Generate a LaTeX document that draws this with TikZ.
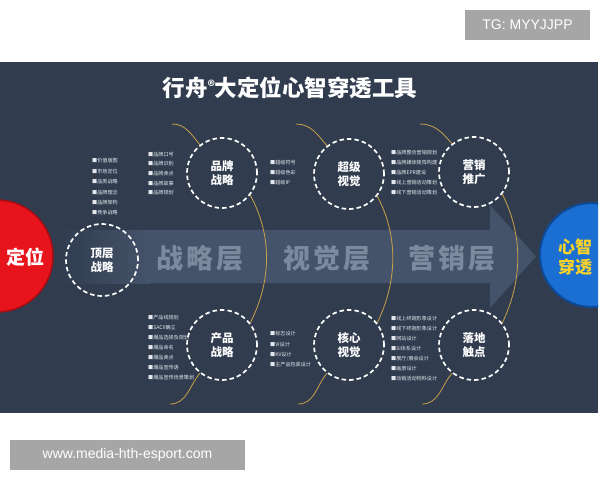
\documentclass[tikz,border=0pt]{standalone}
\usepackage{fontspec}
\setmainfont{Noto Sans CJK SC}
\newfontfamily\latinsans{Liberation Sans}
\usetikzlibrary{shapes.geometric}
\definecolor{bg}{HTML}{313D4F}
\definecolor{arrowc}{HTML}{45536A}
\definecolor{layertxt}{HTML}{7C8A9F}
\definecolor{goldc}{HTML}{C9A04A}
\definecolor{redc}{HTML}{E8141C}
\definecolor{redd}{HTML}{A80C12}
\definecolor{bluec}{HTML}{1C6FD2}
\definecolor{blued}{HTML}{0C4A9A}
\definecolor{yellowc}{HTML}{F6D22A}
\definecolor{grayc}{HTML}{A6A6A6}
\definecolor{listc}{HTML}{E4E8EE}
\tikzset{
  dc/.style={circle, draw=white, line width=1.7pt, dash pattern=on 4.5pt off 3pt,
    minimum size=70pt, inner sep=0pt, text=white, align=center,
    font=\bfseries\fontsize{11.5}{14}\selectfont},
  li/.style={anchor=west, text=listc, inner sep=0pt, font=\fontsize{5.1}{6}\selectfont},
  gold/.style={draw=goldc, line width=0.8pt},
  layer/.style={text=layertxt, font=\bfseries\fontsize{27}{30}\selectfont, inner sep=0pt},
  graybox/.style={fill=grayc, text=white, inner sep=0pt, font=\latinsans\fontsize{14}{16}\selectfont}
}
\begin{document}
\begin{tikzpicture}[x=1pt,y=-1pt]
\useasboundingbox (0,0) rectangle (600,480);
\fill[white] (0,0) rectangle (600,480);
% dark band
\fill[bg] (0,62) rectangle (598,413);
% watermark boxes
\node[graybox, minimum width=125pt, minimum height=30pt] (tg) at (527.5,25) {TG: MYYJJPP};
\node[graybox, minimum width=235pt, minimum height=30pt] (www) at (127.5,455) {www.media-hth-esport.com};
% title
\node[text=white, font=\bfseries\fontsize{22.5}{24}\selectfont, inner sep=0pt] (title) at (290,88)
  {行舟{\fontsize{14}{14}\selectfont\raisebox{5pt}{®}}大定位心智穿透工具};
% big arrow
\shade[left color=bg, right color=arrowc] (60,230) rectangle (150,283);
\fill[arrowc] (149.5,230) -- (490,230) -- (490,205) -- (536,256.5) -- (490,308) -- (490,283) -- (149.5,283) -- cycle;
\node[layer] (lay1) at (200,258) {战\hspace{3pt}略\hspace{3pt}层};
\node[layer] (lay2) at (327,258) {视\hspace{3pt}觉\hspace{3pt}层};
\node[layer] (lay3) at (452,258) {营\hspace{3pt}销\hspace{3pt}层};
% side circles
\begin{scope}
\clip (0,62) rectangle (598,413);
\node[circle, fill=redc, draw=redd, line width=1.5pt, minimum size=112pt, inner sep=0pt] (red) at (-3,256) {};
\node[circle, fill=bluec, draw=blued, line width=2pt, minimum size=104pt, inner sep=0pt] (blue) at (592,255) {};
\end{scope}
\node[text=white, font=\bfseries\fontsize{19}{21}\selectfont, inner sep=0pt] (dingwei) at (25,257) {定位};
\node[text=yellowc, font=\bfseries\fontsize{17}{20}\selectfont, align=center, inner sep=0pt] (xinzhi) at (575,257) {心智\\穿透};
% dashed circles
\node[dc, minimum size=72pt] (c0) at (102,260) {顶层\\战略};
\node[dc] (b1) at (222,173) {品牌\\战略};
\node[dc] (b2) at (349,174) {超级\\视觉};
\node[dc] (b3) at (474,172) {营销\\推广};
\node[dc] (p1) at (222,345) {产品\\战略};
\node[dc] (p2) at (349,345) {核心\\视觉};
\node[dc] (p3) at (474,345) {落地\\触点};
% gold curves
\coordinate (t1) at (172,124);
\coordinate (t2) at (296,124);
\coordinate (t3) at (420,124);
\coordinate (e1) at (170,404);
\coordinate (e2) at (298,404);
\coordinate (e3) at (422,404);
\draw[gold] (t1) to[out=0,in=130] (b1.128);
\draw[gold] (t2) to[out=0,in=130] (b2.128);
\draw[gold] (t3) to[out=0,in=130] (b3.128);
\draw[gold] (b1.-38) .. controls (272,235) and (272,280) .. (p1.38);
\draw[gold] (b2.-38) .. controls (398,235) and (398,280) .. (p2.38);
\draw[gold] (b3.-38) .. controls (523,235) and (523,280) .. (p3.38);
\draw[gold] (p1.-128) to[out=-130,in=0] (e1);
\draw[gold] (p2.-128) to[out=-130,in=0] (e2);
\draw[gold] (p3.-128) to[out=-130,in=0] (e3);
% lists
\foreach \t [count=\i] in {价值版图,市场定位,品类战略,品牌理念,品牌架构,竞争战略}
  \node[li] (la\i) at (92,{150.5+10.4*\i}) {■\t};
\foreach \t [count=\i] in {品牌口号,品牌识别,品牌卖点,品牌故事,品牌规划}
  \node[li] (lb\i) at (148,{144.5+9.7*\i}) {■\t};
\foreach \t [count=\i] in {超级符号,超级色彩,超级IP}
  \node[li] (lc\i) at (270,{153+10*\i}) {■\t};
\foreach \t [count=\i] in {品牌整合营销规划,品牌媒体矩阵构建,品牌EPR建设,线上营销活动策划,线下营销活动策划}
  \node[li] (ld\i) at (391,{143+10*\i}) {■\t};
\foreach \t [count=\i] in {产品线规划,SACX确立,爆品选择及规划,爆品命名,爆品卖点,爆品宣传语,爆品宣传场景策划}
  \node[li] (le\i) at (148,{308+10*\i}) {■\t};
\foreach \t [count=\i] in {标志设计,VI设计,KV设计,主产品包装设计}
  \node[li] (lf\i) at (270,{323.5+10.3*\i}) {■\t};
\foreach \t [count=\i] in {线上终端形象设计,线下终端形象设计,网站设计,SI体系设计,展厅/展会设计,画册设计,动销活动物料设计}
  \node[li] (lg\i) at (391,{309+10*\i}) {■\t};
\end{tikzpicture}
\end{document}
